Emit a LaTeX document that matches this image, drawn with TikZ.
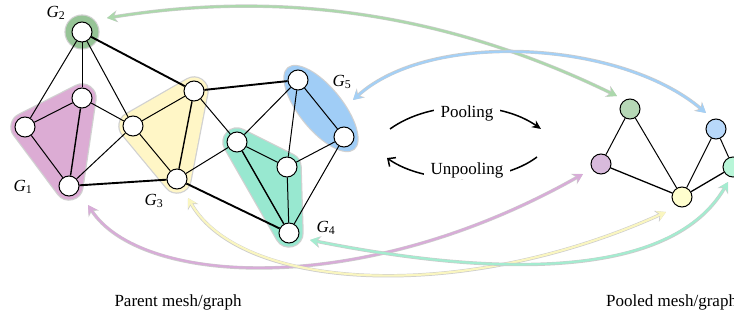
\documentclass[tikz,border=0pt]{standalone}
\usepackage{fontspec}
\setmainfont{Liberation Serif}
\usetikzlibrary{arrows.meta,backgrounds}
\definecolor{grpone}{RGB}{220,172,212}
\definecolor{grptwo}{RGB}{150,196,150}
\definecolor{grpthree}{RGB}{255,246,198}
\definecolor{grpfour}{RGB}{152,232,208}
\definecolor{grpfive}{RGB}{160,205,246}
\definecolor{arrone}{RGB}{216,172,216}
\definecolor{arrtwo}{RGB}{172,216,172}
\definecolor{arrthree}{RGB}{250,246,192}
\definecolor{arrfour}{RGB}{164,236,208}
\definecolor{arrfive}{RGB}{164,208,246}
\definecolor{poolone}{RGB}{216,186,220}
\definecolor{pooltwo}{RGB}{182,216,182}
\definecolor{poolthree}{RGB}{255,254,206}
\definecolor{poolfour}{RGB}{184,246,216}
\definecolor{poolfive}{RGB}{184,216,250}
\begin{document}
\begin{tikzpicture}[
	x=1pt, y=-1pt,
	font=\fontsize{17}{20}\selectfont,
	vtx/.style={circle, draw, fill=white, line width=1pt, minimum size=20pt, inner sep=0pt},
	pooled/.style={vtx, fill=#1},
	edge/.style={line width=1pt},
	heavy/.style={line width=1.9pt},
	hull/.style={draw=#1, fill=#1, line width=27pt, line join=round},
	rim/.style={draw=black!18, fill=black!18, line width=29.5pt, line join=round},
	link/.style={draw=#1, line width=2.2pt, {Stealth[length=9pt,width=10pt]}-{Stealth[length=9pt,width=10pt]}},
	linkrim/.style={draw=black!20, line width=3.4pt, {Stealth[length=10.5pt,width=12pt]}-{Stealth[length=10.5pt,width=12pt]}},
	flow/.style={line width=1.5pt},
	lbl/.style={inner sep=1pt}
]
\useasboundingbox (0,0) rectangle (734,321);

% parent mesh
\node[vtx] (a) at (82,32) {};
\node[vtx] (b) at (82,98) {};
\node[vtx] (c) at (25,127) {};
\node[vtx] (d) at (69,186) {};
\node[vtx] (e) at (133,126) {};
\node[vtx] (f) at (194,91) {};
\node[vtx] (g) at (177,179) {};
\node[vtx] (h) at (237,142) {};
\node[vtx] (i) at (298,80) {};
\node[vtx] (j) at (344,137) {};
\node[vtx] (k) at (287,167) {};
\node[vtx] (l) at (289,233) {};

\draw[edge] (a) -- (c);
\draw[edge] (a) -- (b);
\draw[edge] (a) -- (e);
\draw[heavy] (a) -- (f);
\draw[edge] (b) -- (c);
\draw[line width=1.4pt] (b) -- (d);
\draw[edge] (b) -- (e);
\draw[edge] (c) -- (d);
\draw[edge] (d) -- (e);
\draw[heavy] (d) -- (g);
\draw[edge] (e) -- (f);
\draw[edge] (e) -- (g);
\draw[line width=1.4pt] (f) -- (g);
\draw[heavy] (f) -- (i);
\draw[edge] (f) -- (h);
\draw[edge] (g) -- (h);
\draw[heavy] (g) -- (l);
\draw[edge] (h) -- (i);
\draw[edge] (h) -- (k);
\draw[line width=1.4pt] (h) -- (l);
\draw[edge] (i) -- (j);
\draw[edge] (i) -- (k);
\draw[edge] (j) -- (k);
\draw[edge] (j) -- (l);
\draw[edge] (k) -- (l);

\begin{scope}[on background layer]
	\path[rim] (b.center) -- (c.center) -- (d.center) -- cycle;
	\path[hull=grpone] (b.center) -- (c.center) -- (d.center) -- cycle;
	\path[rim] (e.center) -- (f.center) -- (g.center) -- cycle;
	\path[hull=grpthree] (e.center) -- (f.center) -- (g.center) -- cycle;
	\path[rim] (h.center) -- (k.center) -- (l.center) -- cycle;
	\path[hull=grpfour] (h.center) -- (k.center) -- (l.center) -- cycle;
	\fill[black!18] (a) circle (17.6pt);
	\fill[grptwo] (a) circle (16.4pt);
	\fill[black!18, rotate around={-51:(321,108.5)}] (321,108.5) ellipse [x radius=53.2, y radius=22.2];
	\fill[grpfive, rotate around={-51:(321,108.5)}] (321,108.5) ellipse [x radius=52, y radius=21];
\end{scope}

\node[lbl] (lone) at (23,187) {\textit{G}\textsubscript{1}};
\node[lbl] (ltwo) at (56,13) {\textit{G}\textsubscript{2}};
\node[lbl] (lthree) at (154,201) {\textit{G}\textsubscript{3}};
\node[lbl] (lfour) at (326,228) {\textit{G}\textsubscript{4}};
\node[lbl] (lfive) at (342,82) {\textit{G}\textsubscript{5}};

% pooled mesh
\node[pooled=pooltwo] (pg) at (630,109) {};
\node[pooled=poolone] (pp) at (601,164) {};
\node[pooled=poolthree] (py) at (682,197) {};
\node[pooled=poolfive] (pb) at (716,129) {};
\node[pooled=poolfour] (pt) at (733,167) {};

\draw[edge] (pg) -- (pp);
\draw[edge] (pg) -- (py);
\draw[line width=1.3pt] (pp) -- (py);
\draw[edge] (py) -- (pb);
\draw[line width=1.3pt] (py) -- (pt);
\draw[edge] (pb) -- (pt);

% pooling / unpooling
\draw[flow, -{Stealth[length=9pt,width=8pt]}] (390,129) .. controls (430,100) and (500,100) .. (541,129);
\draw[flow, -{Straight Barb[length=6pt,width=11pt]}] (537,157) .. controls (500,185) and (425,185) .. (387,158);
\node[fill=white, inner xsep=7pt, inner ysep=1pt] (pooling) at (467,113) {Pooling};
\node[fill=white, inner xsep=7pt, inner ysep=1pt] (unpooling) at (467,170) {Unpooling};

% correspondences
\coordinate (tone) at (88,205);
\coordinate (ttwo) at (107,18);
\coordinate (tthree) at (188,198);
\coordinate (tfour) at (310,240);
\coordinate (tfive) at (353,100);
\coordinate (hone) at (583,174);
\coordinate (htwo) at (617,96);
\coordinate (hthree) at (666,212);
\coordinate (hfour) at (728,182);
\coordinate (hfive) at (706,113);

\draw[linkrim] (ttwo) .. controls (250,-5) and (420,0) .. (htwo);
\draw[link=arrtwo] (ttwo) .. controls (250,-5) and (420,0) .. (htwo);
\draw[linkrim] (tfive) .. controls (430,30) and (620,40) .. (hfive);
\draw[link=arrfive] (tfive) .. controls (430,30) and (620,40) .. (hfive);
\draw[linkrim] (tone) .. controls (140,285) and (360,300) .. (hone);
\draw[link=arrone] (tone) .. controls (140,285) and (360,300) .. (hone);
\draw[linkrim] (tthree) .. controls (240,290) and (460,305) .. (hthree);
\draw[link=arrthree] (tthree) .. controls (240,290) and (460,305) .. (hthree);
\draw[linkrim] (tfour) .. controls (420,262) and (660,300) .. (hfour);
\draw[link=arrfour] (tfour) .. controls (420,262) and (660,300) .. (hfour);

\node (parent) at (178,302) {Parent mesh/graph};
\node[anchor=west, inner sep=0pt] (pooledtxt) at (606,302) {Pooled mesh/graph};
\end{tikzpicture}
\end{document}
